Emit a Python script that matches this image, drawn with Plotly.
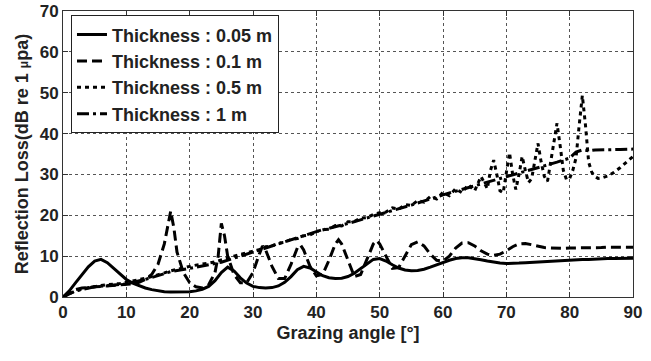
import plotly.graph_objects as go

# ---- data ----
x_005 = list(range(0, 91))
y_005 = [0, 1.5, 3.5, 5.5, 7.4, 8.8, 9.2, 8.4, 7.0, 5.5, 4.3, 3.4, 2.7, 2.2, 1.8, 1.5, 1.3, 1.2, 1.2, 1.2,
         1.3, 1.5, 1.9, 2.6, 4.0, 6.0, 7.3, 6.4, 4.7, 3.4, 2.6, 2.3, 2.2, 2.3, 2.7, 3.6, 5.0, 6.7, 7.5, 7.1,
         6.1, 5.2, 4.7, 4.5, 4.6, 5.0, 5.8, 6.9, 8.2, 9.2, 9.4, 8.8, 7.9, 7.1, 6.6, 6.4, 6.5, 6.8, 7.3, 7.9,
         8.5, 9.0, 9.4, 9.6, 9.6, 9.4, 9.1, 8.8, 8.5, 8.3, 8.2, 8.2, 8.3, 8.4, 8.5, 8.6, 8.7, 8.8, 8.9, 9.0,
         9.1, 9.1, 9.2, 9.2, 9.3, 9.3, 9.4, 9.4, 9.4, 9.5, 9.5]

x_01 = [0, 1, 2, 3, 4, 5, 6, 7, 8, 9, 10, 11, 12, 13, 14, 15, 16, 16.5, 17, 17.5, 18, 19, 20, 21, 22, 23, 24,
        24.5, 25, 25.5, 26, 27, 28, 29, 30, 31, 31.5, 32, 33, 34, 35, 36, 37, 37.5, 38, 39, 40, 41, 42, 43,
        43.5, 44, 45, 46, 47, 48, 49, 49.5, 50, 51, 52, 53, 54, 55, 56, 57, 58, 59, 60, 61, 62, 63, 64, 65,
        66, 67, 68, 69, 70, 71, 72, 73, 74, 75, 76, 77, 78, 79, 80, 81, 82, 83, 84, 85, 86, 87, 88, 89, 90]
y_01 = [0, 1.0, 1.8, 2.2, 2.4, 2.5, 2.6, 2.7, 2.8, 2.9, 3.0, 3.2, 3.6, 4.3, 5.5, 8.0, 13.0, 17.0, 21.0, 17.0,
        11.0, 6.0, 3.5, 2.5, 2.2, 3.0, 6.0, 10.0, 18.0, 15.0, 10.0, 5.5, 3.5, 3.5, 6.0, 10.5, 12.5, 11.5,
        7.5, 4.5, 4.5, 8.0, 12.0, 12.7, 11.5, 7.5, 5.2, 5.5, 9.0, 13.0, 14.0, 13.0, 9.0, 5.0, 5.5, 9.5,
        13.0, 13.8, 13.0, 10.0, 7.0, 7.2, 10.0, 12.8, 13.5, 12.5, 10.5, 9.0, 8.8, 10.0, 12.0, 13.2, 13.3,
        12.5, 11.3, 10.5, 10.2, 10.5, 11.3, 12.3, 13.0, 13.1, 12.8, 12.4, 12.1, 12.0, 11.9, 11.9, 12.0,
        12.0, 12.0, 12.1, 12.1, 12.1, 12.2, 12.2, 12.2, 12.2, 12.2]

x_05 = list(range(0, 67)) + [67, 67.5, 68, 68.5, 69, 69.5, 70, 70.5, 71, 71.5, 72, 72.5, 73, 73.5, 74, 74.5,
                             75, 75.5, 76, 76.5, 77, 77.5, 78, 78.5, 79, 79.5, 80, 80.5, 81, 81.5, 82, 82.5,
                             83, 83.5, 84, 84.5, 85, 86, 87, 88, 89, 90]
y_05 = [0, 0.8, 1.5, 2.0, 2.3, 2.6, 2.8, 3.0, 3.1, 3.3, 3.6, 3.9, 4.3, 4.6, 5.0, 5.4, 5.9, 6.4, 6.8, 7.2,
        7.5, 7.8, 8.0, 8.3, 8.6, 9.0, 9.5, 10.0, 10.4, 10.9, 11.3, 11.6, 12.3, 12.5, 13.2, 13.4, 14.1, 14.3,
        15.0, 15.2, 16.0, 16.5, 16.6, 17.5, 17.4, 18.4, 18.5, 19.3, 19.4, 20.2, 20.6, 20.8, 21.8, 21.5, 22.6,
        22.4, 23.6, 23.2, 24.6, 24.0, 25.6, 24.8, 26.5, 25.5, 27.5, 26.0, 29.5,
        26.5, 31.0, 33.5, 30.0, 26.0, 25.5, 30.0, 35.3, 30.0, 26.3, 30.0, 34.4, 31.0, 28.0, 29.0, 33.0,
        37.6, 33.0, 29.5, 28.3, 33.0, 38.0, 42.5, 37.0, 31.0, 28.7, 29.0, 31.0, 34.0, 42.0, 49.3, 42.0,
        33.0, 30.5, 29.5, 29.0, 29.1, 29.6, 30.5, 31.7, 33.0, 34.4]

x_1 = [0, 2, 5, 10, 13, 15, 17, 20, 25, 30, 35, 40, 45, 50, 55, 60, 65, 70, 75, 78, 80, 81, 82, 83, 84, 86, 88, 90]
y_1 = [0, 1.5, 2.5, 3.2, 4.3, 5.2, 6.2, 7.0, 8.5, 11.0, 13.5, 16.0, 18.0, 20.3, 22.5, 25.0, 27.2, 29.3,
       31.5, 33.0, 34.0, 35.5, 36.0, 35.8, 36.0, 36.0, 36.1, 36.2]

series_names = ["Thickness : 0.05 m", "Thickness : 0.1 m", "Thickness : 0.5 m", "Thickness : 1 m"]
x_ticks = [0, 10, 20, 30, 40, 50, 60, 70, 80, 90]
y_ticks = [0, 10, 20, 30, 40, 50, 60, 70]

FONT = "Arial, Liberation Sans, sans-serif"
TXT = "#222"

fig = go.Figure()
dashes = ["solid", "10px,5px", "4px,4px", "12px,4px,3px,4px"]
for name, xs, ys, d in zip(series_names, [x_005, x_01, x_05, x_1], [y_005, y_01, y_05, y_1], dashes):
    fig.add_trace(go.Scatter(x=xs, y=ys, name=name, mode="lines",
                             line=dict(color="black", width=3, dash=d)))

axis_common = dict(
    showline=True, linecolor="#333", linewidth=1, mirror="allticks",
    ticks="inside", ticklen=5, tickcolor="#333",
    showgrid=True, gridcolor="#555", gridwidth=1, griddash="dot",
    zeroline=False, automargin=False, ticklabeloverflow="allow",
    tickfont=dict(family=FONT, size=17, color=TXT, weight="bold"),
)

fig.update_xaxes(range=[0, 90], tickvals=x_ticks,
                 title=dict(text="Grazing angle [°]", font=dict(family=FONT, size=18, color=TXT, weight="bold"),
                            standoff=4),
                 **axis_common)
fig.update_yaxes(range=[0, 70], tickvals=y_ticks,
                 title=dict(text="Reflection Loss(dB re 1 <span style='font-size:12px'>μ</span>pa)",
                            font=dict(family=FONT, size=18, color=TXT, weight="bold"),
                            standoff=6),
                 **axis_common)

fig.update_layout(
    width=651, height=361,
    margin=dict(l=63, r=18, t=11, b=64),
    plot_bgcolor="white", paper_bgcolor="white",
    showlegend=True,
    legend=dict(x=0.014, y=0.985, xanchor="left", yanchor="top",
                bgcolor="white", bordercolor="#222", borderwidth=1,
                font=dict(family=FONT, size=18, color=TXT, weight="bold"),
                tracegroupgap=0),
)

fig.write_html("out.html")
